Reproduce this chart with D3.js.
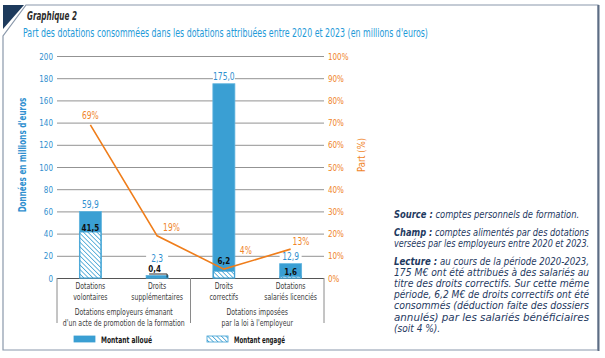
<!DOCTYPE html>
<html>
<head>
<meta charset="utf-8">
<script src="https://cdn.jsdelivr.net/npm/d3@7"></script>
<style>
  body { margin: 0; background: #fff; }
  svg { display: block; }
</style>
</head>
<body>
<div id="chart"></div>
<script>
// data
const categories = [["Dotations", "volontaires"], ["Droits", "supplémentaires"], ["Droits", "correctifs"], ["Dotations", "salariés licenciés"]];
const montantAlloue = [59.9, 2.3, 175.0, 12.9];
const montantEngage = [41.5, 0.4, 6.2, 1.6];
const partConsommee = [69, 19, 4, 13];
const leftTicks = [0, 20, 40, 60, 80, 100, 120, 140, 160, 180, 200];
const rightTicks = [0, 10, 20, 30, 40, 50, 60, 70, 80, 90, 100];
const groupLabels = [["Dotations employeurs émanant", "d'un acte de promotion de la formation"], ["Dotations imposées", "par la loi à l'employeur"]];
const groupSpans = [[0, 1], [2, 3]];
const legendLabels = ["Montant alloué", "Montant engagé"];
const notes = [
  [[["Source :", true], [" comptes personnels de formation.", false]]],
  [[["Champ :", true], [" comptes alimentés par des dotations", false]],
   [["versées par les employeurs entre 2020 et 2023.", false]]],
  [[["Lecture :", true], [" au cours de la période 2020-2023,", false]],
   [["175 M€ ont été attribués à des salariés au", false]],
   [["titre des droits correctifs. Sur cette même", false]],
   [["période, 6,2 M€ de droits correctifs ont été", false]],
   [["consommés (déduction faite des dossiers", false]],
   [["annulés) par les salariés bénéficiaires", false]],
   [["(soit 4 %).", false]]]
];

const width = 605, height = 358;
const FONT = "'Liberation Sans Narrow','DejaVu Sans Condensed','Arial Narrow',sans-serif";
const blue = "#3a9fd3", orange = "#ef7d1a", navy = "#1f3a5f";
const fr = d3.formatLocale({decimal: ",", thousands: " ", grouping: [3], currency: ["", " €"]});
const f1 = fr.format(".1f");

const svg = d3.select("#chart").append("svg")
    .attr("width", width)
    .attr("height", height)
    .attr("font-family", FONT)
    .style("font-stretch", "condensed");

// narrow a text horizontally by factor k, keeping its anchor point
function scaleText(node, k) {
  const prev = node.getAttribute("transform");
  if (prev) {
    node.setAttribute("transform", `${prev} scale(${k},1)`);
  } else {
    const x0 = +node.getAttribute("x") || 0;
    node.setAttribute("transform", `translate(${x0},0) scale(${k},1) translate(${-x0},0)`);
  }
  node.setAttribute("data-done", 1);
}
function squeeze(sel, k) {
  sel.each(function() { scaleText(this, k); });
  return sel;
}
function fit(sel, w) {
  sel.each(function() { scaleText(this, w / this.getComputedTextLength()); });
  return sel;
}

// hatch for "montant engagé"
const defs = svg.append("defs");
const pat = defs.append("pattern")
    .attr("id", "hatch")
    .attr("patternUnits", "userSpaceOnUse")
    .attr("width", 3.2).attr("height", 3.2)
    .attr("patternTransform", "rotate(-45)");
pat.append("rect").attr("width", 3.2).attr("height", 3.2).attr("fill", "#fff");
pat.append("line").attr("x1", 0).attr("y1", 0).attr("x2", 0).attr("y2", 3.2)
    .attr("stroke", blue).attr("stroke-width", 1.5);

// frame
svg.append("path")
    .attr("d", "M26,5H598V350H3V36Z")
    .attr("fill", "none").attr("stroke", "#8a98ab").attr("stroke-width", 1.2);
svg.append("line").attr("x1", 598.5).attr("x2", 598.5).attr("y1", 5).attr("y2", 351)
    .attr("stroke", "#5d6d84").attr("stroke-width", 2);
svg.append("path").attr("d", "M3,5H24L3,29Z").attr("fill", "#1d3a5c");

// titles
svg.append("text").attr("x", 27).attr("y", 20)
    .attr("font-size", 12).attr("font-weight", "bold").attr("font-style", "italic")
    .attr("fill", "#2b2b2b").text("Graphique 2")
    .call(fit, 50);
svg.append("text").attr("x", 23).attr("y", 37)
    .attr("font-size", 11.5).attr("fill", "#1f9ad8").attr("font-weight", 500)
    .text("Part des dotations consommées dans les dotations attribuées entre 2020 et 2023 (en millions d'euros)")
    .call(fit, 405);

// scales
const x = d3.scaleBand().domain(d3.range(categories.length)).range([57, 324]).padding(0);
const y = d3.scaleLinear().domain([0, 200]).range([278, 56]);
const yR = d3.scaleLinear().domain([0, 100]).range([278, 56]);
const barW = 22;
const cx = i => x(i) + x.bandwidth() / 2;

// grid
svg.append("g").selectAll("line")
  .data(leftTicks)
  .join("line")
    .attr("x1", 57).attr("x2", 324)
    .attr("y1", d => y(d) + 0.5).attr("y2", d => y(d) + 0.5)
    .attr("stroke", d => d === 0 ? "#555" : "#939393")
    .attr("stroke-width", 1);

// axes
const gL = svg.append("g").attr("transform", "translate(57,0)")
    .call(d3.axisLeft(y).tickValues(leftTicks).tickSize(0).tickPadding(4));
gL.select(".domain").remove();
gL.selectAll("text").attr("fill", "#2f8fcf").attr("font-size", 9.5).attr("font-family", FONT);

const gR = svg.append("g").attr("transform", "translate(324,0)")
    .call(d3.axisRight(yR).tickValues(rightTicks).tickSize(0).tickPadding(4).tickFormat(d => d + "%"));
gR.select(".domain").remove();
gR.selectAll("text").attr("fill", "#f08428").attr("font-size", 9.5).attr("font-family", FONT);

svg.append("text")
    .attr("transform", "translate(26,155) rotate(-90)")
    .attr("text-anchor", "middle").attr("font-size", 10).attr("font-weight", "bold")
    .attr("fill", "#2f8fcf").text("Données en millions d'euros")
    .call(fit, 115);
svg.append("text")
    .attr("transform", "translate(365,155) rotate(-90)")
    .attr("text-anchor", "middle").attr("font-size", 10)
    .attr("fill", "#f08428").text("Part (%)")
    .call(fit, 34);

// bars
svg.append("g").selectAll("rect")
  .data(montantAlloue)
  .join("rect")
    .attr("x", (d, i) => cx(i) - barW / 2)
    .attr("y", d => y(d))
    .attr("width", barW)
    .attr("height", d => y(0) - y(d))
    .attr("fill", blue)
    .attr("stroke", "#5fb3de").attr("stroke-width", 0.8);

svg.append("g").selectAll("rect")
  .data(montantEngage)
  .join("rect")
    .attr("x", (d, i) => cx(i) - barW / 2 + 0.5)
    .attr("y", d => y(d))
    .attr("width", barW - 1)
    .attr("height", d => y(0) - y(d))
    .attr("fill", "url(#hatch)")
    .attr("stroke", blue).attr("stroke-width", 1);

// engaged labels (black, bold)
const engLabelY = montantEngage.map((d, i) => {
  const top = y(d);
  if (d < 1) return y(0) - 5.5;                        // tiny: label with leader
  if (montantAlloue[i] > 100) return top - 7.5;        // tall bar: lifted above hatch
  return Math.min(top - 0.5, y(0) - 3);
});
svg.append("g").selectAll("text")
  .data(montantEngage)
  .join("text")
    .attr("x", (d, i) => d < 1 ? cx(i) - 2.5 : cx(i))
    .attr("y", (d, i) => engLabelY[i])
    .attr("text-anchor", "middle")
    .attr("font-size", 9.5).attr("font-weight", "bold").attr("fill", "#111")
    .text(d => f1(d));
// leader for tiny value
montantEngage.forEach((d, i) => {
  if (d >= 1) return;
  const ly = engLabelY[i] + 1.5;
  svg.append("path")
      .attr("d", `M${cx(i) - 8},${ly}H${cx(i) + barW / 2 - 1}V${y(d)}`)
      .attr("fill", "none").attr("stroke", "#111").attr("stroke-width", 0.9);
});

// allocated labels (blue, white background)
const allocG = svg.append("g").selectAll("g")
  .data(montantAlloue)
  .join("g")
    .attr("transform", (d, i) => {
      const above = montantEngage[i] < 1 ? engLabelY[i] - 11 : y(d) - 3.5;
      return `translate(${cx(i)},${above})`;
    });
allocG.append("rect")
    .attr("x", -11).attr("y", -9).attr("width", 22).attr("height", 11)
    .attr("fill", "#fff");
allocG.append("text")
    .attr("text-anchor", "middle").attr("font-size", 10).attr("fill", "#2f8fcf")
    .text(d => f1(d));

// percent line
svg.append("path")
    .datum(partConsommee)
    .attr("fill", "none").attr("stroke", orange).attr("stroke-width", 1.6)
    .attr("d", d3.line().x((d, i) => cx(i)).y(d => yR(d)));

const pctShift = [[0, -6, "middle"], [6, -5, "start"], [16, -15, "start"], [2, -4, "start"]];
svg.append("g").selectAll("text")
  .data(partConsommee)
  .join("text")
    .attr("x", (d, i) => cx(i) + pctShift[i][0])
    .attr("y", (d, i) => yR(d) + pctShift[i][1])
    .attr("text-anchor", (d, i) => pctShift[i][2])
    .attr("font-size", 10).attr("fill", "#f08428")
    .text(d => d + "%");

// category table below the axis
const sepX = [x(0), x(2), x(3) + x.bandwidth()];
svg.append("g").selectAll("line")
  .data(sepX)
  .join("line")
    .attr("x1", d => d).attr("x2", d => d)
    .attr("y1", 278).attr("y2", 323)
    .attr("stroke", "#8a8a8a").attr("stroke-width", 1);

const catLines = categories.flatMap((lines, i) => lines.map((t, j) => ({t, i, j})));
svg.append("g").selectAll("text")
  .data(catLines)
  .join("text")
    .attr("x", d => cx(d.i))
    .attr("y", d => 289 + d.j * 11)
    .attr("text-anchor", "middle").attr("font-size", 9.2).attr("fill", "#3a3a3a")
    .text(d => d.t)
    .call(squeeze, 0.75);

const grpLines = groupLabels.flatMap((lines, i) => lines.map((t, j) => ({t, i, j})));
svg.append("g").selectAll("text")
  .data(grpLines)
  .join("text")
    .attr("x", d => (x(groupSpans[d.i][0]) + x(groupSpans[d.i][1]) + x.bandwidth()) / 2)
    .attr("y", d => 315 + d.j * 11)
    .attr("text-anchor", "middle").attr("font-size", 9.2).attr("fill", "#3a3a3a")
    .text(d => d.t)
    .call(squeeze, 0.75);

// legend
const legX = [74, 207];
const leg = svg.append("g").selectAll("g")
  .data(legendLabels)
  .join("g")
    .attr("transform", (d, i) => `translate(${legX[i]},336)`);
leg.append("rect")
    .attr("width", 21).attr("height", 6)
    .attr("fill", (d, i) => i === 0 ? blue : "url(#hatch)")
    .attr("stroke", blue).attr("stroke-width", 0.8);
leg.append("text")
    .attr("x", 27).attr("y", 6.5)
    .attr("font-size", 9).attr("font-weight", "bold").attr("fill", "#1a1a1a")
    .text(d => d)
    .call(fit, 51);

// condense every remaining text (no narrow font installed)
svg.selectAll("text").each(function() {
  if (this.hasAttribute("data-done")) return;
  scaleText(this, 0.84);
});

// notes block, justified; short last lines get the mean squeeze
const noteLeft = 394, noteWidth = 195;
let ny = 218;
const noteRows = [];
notes.forEach((para, p) => {
  para.forEach((line, li) => {
    const t = svg.append("text")
        .attr("x", noteLeft).attr("y", ny)
        .attr("font-size", 10.2).attr("font-style", "italic").attr("fill", navy);
    line.forEach(([s, b]) => t.append("tspan").attr("font-weight", b ? "bold" : "normal").text(s));
    const full = li < para.length - 1 || p === 1;
    noteRows.push({t, full, natural: t.node().getComputedTextLength()});
    ny += 11.2;
  });
  ny += 6.5;
});
const kMean = d3.mean(noteRows.filter(r => r.full), r => noteWidth / r.natural);
noteRows.forEach(r => fit(r.t, r.full ? noteWidth : Math.min(r.natural * kMean, noteWidth * 0.95)));
</script>
</body>
</html>
